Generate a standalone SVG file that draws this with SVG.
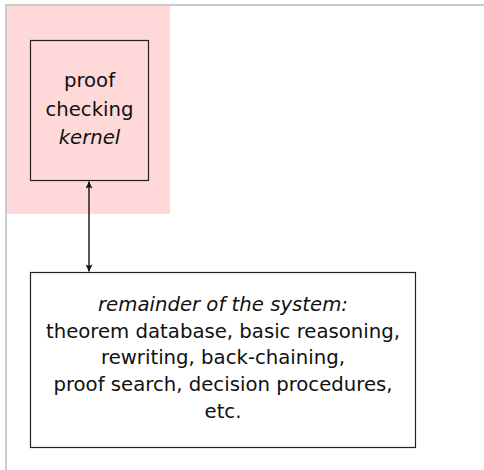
<svg xmlns="http://www.w3.org/2000/svg" width="484" height="470" viewBox="0 0 484 470">
<style>
.box{fill:none;stroke:#222;stroke-width:1.2}
.t{font-family:"DejaVu Sans",sans-serif;font-size:19.7px;fill:#111;text-anchor:middle}
.i{font-style:italic}
.c{stroke:#111;stroke-width:1.4;fill:none}
</style>
<defs>
<marker id="ah" viewBox="0 0 10 10" refX="10" refY="5" markerWidth="8" markerHeight="7" markerUnits="userSpaceOnUse" orient="auto-start-reverse">
<path d="M0,0 L10,5 L0,10 L2,5 Z" fill="#111"/>
</marker>
</defs>
<rect x="0" y="0" width="484" height="470" fill="#fff"/>
<line x1="6" y1="5" x2="484" y2="5" stroke="#cccccc" stroke-width="2"/>
<line x1="6" y1="4" x2="6" y2="470" stroke="#cccccc" stroke-width="2"/>
<rect x="7" y="6" width="163" height="208" fill="#ffd9d9"/>
<g id="kernel">
<rect class="box" x="30.5" y="40.5" width="118" height="140"/>
<text class="t" x="89.5" y="87">proof</text>
<text class="t" x="89.5" y="115.5">checking</text>
<text class="t i" x="89.5" y="143.5">kernel</text>
</g>
<g id="remainder">
<rect class="box" x="30.5" y="272.5" width="385" height="175"/>
<text class="t i" x="223" y="311">remainder of the system:</text>
<text class="t" x="223" y="337.5">theorem database, basic reasoning,</text>
<text class="t" x="223" y="364.3">rewriting, back-chaining,</text>
<text class="t" x="223" y="391">proof search, decision procedures,</text>
<text class="t" x="223" y="417.5">etc.</text>
</g>
<g id="connectors">
<line class="c" x1="89" y1="181.5" x2="89" y2="271.5" marker-start="url(#ah)" marker-end="url(#ah)"/>
</g>
</svg>
